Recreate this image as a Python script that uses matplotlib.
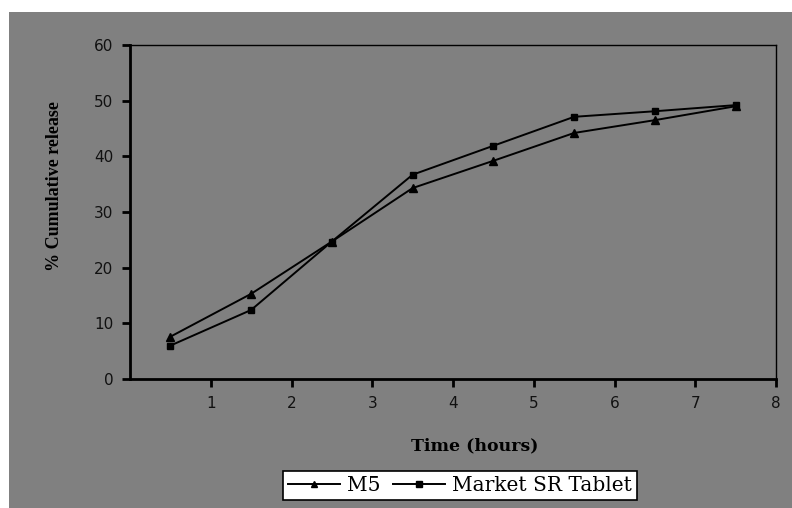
import matplotlib
matplotlib.use("Agg")
import matplotlib.pyplot as plt
from matplotlib.patches import Rectangle

# data
time_h = [0.5, 1.5, 2.5, 3.5, 4.5, 5.5, 6.5, 7.5]
m5 = [7.6, 15.3, 24.7, 34.3, 39.2, 44.2, 46.5, 49.0]
market_sr = [6.0, 12.4, 24.7, 36.7, 41.9, 47.1, 48.1, 49.2]

GREY = "#808080"

fig = plt.figure(figsize=(7.92, 5.08), dpi=100)
fig.patch.set_facecolor("white")
# grey chart area (white margin on left and top)
fig.patches.append(Rectangle((9 / 792, 0), 1 - 9 / 792, (508 - 12) / 508,
                             transform=fig.transFigure, facecolor=GREY,
                             edgecolor="none", zorder=-10))

ax = fig.add_axes([130 / 792, 1 - 379 / 508, (776 - 130) / 792, (379 - 45) / 508])
ax.set_facecolor(GREY)

l1, = ax.plot(time_h, m5, color="black", lw=1.4, marker="^", markersize=6,
              label="M5")
l2, = ax.plot(time_h, market_sr, color="black", lw=1.4, marker="s", markersize=5,
              label="Market SR Tablet")

ax.set_xlim(0, 8)
ax.set_ylim(0, 60)
ax.set_xticks(range(1, 9))
ax.set_yticks(range(0, 61, 10))

for s in ["left", "bottom"]:
    ax.spines[s].set_linewidth(2)
for s in ["top", "right"]:
    ax.spines[s].set_linewidth(1)
ax.tick_params(direction="out", length=6, width=2, labelsize=11,
               colors="black", pad=6)
for lab in ax.get_xticklabels() + ax.get_yticklabels():
    lab.set_family("DejaVu Sans")
    lab.set_color("#111111")

ax.set_xlabel("Time (hours)", family="DejaVu Serif", fontweight="bold",
              fontsize=12.5, labelpad=20)
ax.xaxis.set_label_coords(0.533, -0.175)
ax.set_ylabel("% Cumulative release", family="Liberation Serif", fontweight="bold",
              fontsize=13, labelpad=20)
ax.yaxis.set_label_coords(-0.104, 0.578)

leg = fig.legend(handles=[l1, l2], ncol=2, loc="center",
                 bbox_to_anchor=(460 / 792, 1 - 485.5 / 508),
                 prop={"family": "DejaVu Serif", "size": 14.5},
                 frameon=True, fancybox=False, edgecolor="black",
                 facecolor="white", framealpha=1, handlelength=2.6,
                 handletextpad=0.35, columnspacing=0.6, borderpad=0.25,
                 markerscale=0.8)
leg.get_frame().set_linewidth(1.2)

fig.savefig("out.png", dpi=100)
